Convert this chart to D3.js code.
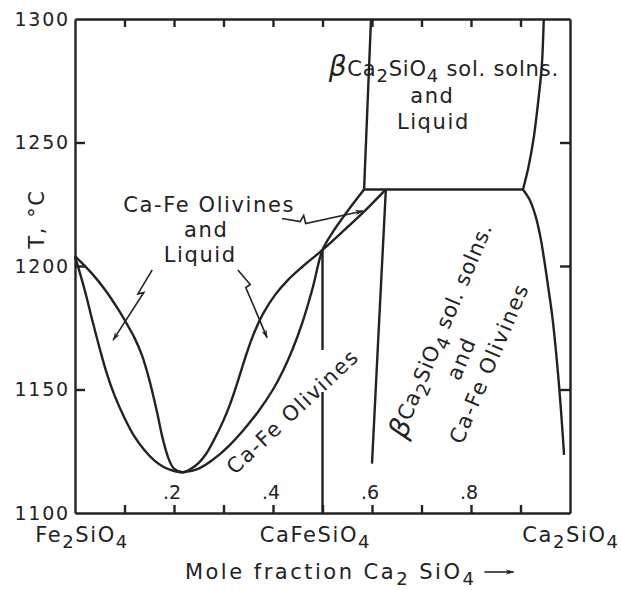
<!DOCTYPE html>
<html>
<head>
<meta charset="utf-8">
<script src="https://cdn.jsdelivr.net/npm/d3@7"></script>
<style>
  body { margin: 0; background: #fff; }
  svg { font-family: 'DejaVu Sans', sans-serif; }
  text { fill: #222; }
  .phase-line { fill: none; stroke: #222; stroke-width: 2.4; stroke-linejoin: round; }
  .axis path, .axis line { stroke: #222; stroke-width: 2.4; }
  .pointer { fill: none; stroke: #222; stroke-width: 1.6; }
  .label { font-size: 21px; letter-spacing: 1.6px; }
  .label.tight { letter-spacing: 0.8px; }
  .label.wide { letter-spacing: 2.5px; }
</style>
</head>
<body>
<svg width="621" height="590"></svg>
<script>
// phase boundaries, [mole fraction Ca2SiO4, T in °C]
const liquidus = [
  [0, 1204], [0.034, 1197], [0.061, 1190.3], [0.088, 1182.2], [0.108, 1175.4],
  [0.12, 1171], [0.135, 1164], [0.15, 1154], [0.165, 1141.5], [0.178, 1129.5],
  [0.19, 1121.5], [0.2, 1118], [0.218, 1116.5], [0.235, 1118], [0.25, 1120.3],
  [0.265, 1124], [0.28, 1129.3], [0.3, 1137.5], [0.315, 1145], [0.33, 1154],
  [0.345, 1163.5], [0.36, 1172], [0.38, 1180.7], [0.405, 1188.5], [0.43, 1194.3],
  [0.46, 1199.8], [0.5, 1206.5], [0.54, 1213.8], [0.585, 1222.2], [0.628, 1231]
];
const solidus = [
  [0, 1204], [0.02, 1190], [0.035, 1178], [0.05, 1166.5], [0.065, 1156],
  [0.08, 1147.5], [0.1, 1138.5], [0.12, 1131], [0.14, 1125.5], [0.16, 1121.3],
  [0.18, 1118.5], [0.2, 1117], [0.218, 1116.5], [0.25, 1118], [0.28, 1121.8],
  [0.31, 1127], [0.34, 1133.5], [0.37, 1141], [0.4, 1150], [0.42, 1157.5],
  [0.44, 1166.5], [0.46, 1177.5], [0.48, 1191], [0.5, 1206.5], [0.52, 1213.5],
  [0.54, 1219.3], [0.562, 1225.3], [0.584, 1231]
];
const peritectic = [[0.584, 1231], [0.905, 1231]];
const betaLiquidLeft = [[0.584, 1231], [0.598, 1300]];
const betaLiquidRight = [
  [0.905, 1231], [0.916, 1240], [0.926, 1251], [0.936, 1267], [0.943, 1281], [0.947, 1300]
];
const olivineSolvus = [[0.628, 1231], [0.614, 1176], [0.6, 1120]];
const betaSolvus = [
  [0.905, 1231], [0.918, 1227], [0.93, 1220.5], [0.94, 1212], [0.949, 1201],
  [0.957, 1190], [0.964, 1180], [0.974, 1160.5], [0.982, 1141], [0.988, 1123.5]
];
const cafeLine = [
  [[0.5, 1206.5], [0.5, 1166]],
  [[0.5, 1149], [0.5, 1100]]
];

// axes
const xMinorTicks = [0.1, 0.2, 0.3, 0.4, 0.5, 0.6, 0.7, 0.8, 0.9];
const xTickValues = [0.2, 0.4, 0.6, 0.8];
const xTickLabels = ['.2', '.4', '.6', '.8'];
const yTicks = [1100, 1150, 1200, 1250, 1300];
const endMembers = [
  { x: 0, parts: ['Fe', '2', 'SiO', '4'] },
  { x: 0.5, parts: ['CaFeSiO', '4'] },
  { x: 1, parts: ['Ca', '2', 'SiO', '4'] }
];

// pointer arrows (lightning style)
const pointers = [
  [[0.156, 1198.4], [0.127, 1188.7], [0.139, 1189.3], [0.077, 1170]],
  [[0.329, 1198.4], [0.354, 1192.5], [0.345, 1191.3], [0.388, 1171]],
  [[0.418, 1219.2], [0.455, 1218], [0.462, 1220.5], [0.466, 1217.2], [0.582, 1222.3]]
];

const svg = d3.select('svg');
const width = +svg.attr('width');
const height = +svg.attr('height');

const margin = { top: 19, right: 51, bottom: 77, left: 75 };
const innerWidth = width - margin.left - margin.right;
const innerHeight = height - margin.top - margin.bottom;

const xScale = d3.scaleLinear().domain([0, 1]).range([0, innerWidth]);
const yScale = d3.scaleLinear().domain([1100, 1300]).range([innerHeight, 0]);

const g = svg.append('g')
  .attr('transform', `translate(${margin.left},${margin.top})`);

// frame with inward ticks
g.append('g').attr('class', 'axis')
  .attr('transform', `translate(0,${innerHeight})`)
  .call(d3.axisBottom(xScale).tickValues(xMinorTicks).tickSize(-8).tickSizeOuter(0).tickFormat(''));

g.append('g').attr('class', 'axis')
  .call(d3.axisTop(xScale).tickValues(xMinorTicks).tickSize(-8).tickSizeOuter(0).tickFormat(''));

g.append('g').attr('class', 'axis')
  .attr('transform', `translate(${innerWidth},0)`)
  .call(d3.axisRight(yScale).tickValues(yTicks.slice(1, -1)).tickSize(-10).tickSizeOuter(0).tickFormat(''));

const yAxisG = g.append('g').attr('class', 'axis')
  .call(d3.axisLeft(yScale).tickValues(yTicks).tickSize(-10).tickSizeOuter(0)
    .tickPadding(5).tickFormat(d3.format('d')));
yAxisG.selectAll('.tick text')
  .attr('font-family', "'DejaVu Sans', sans-serif")
  .attr('font-size', 19)
  .attr('fill', '#222')
  .style('letter-spacing', '1.8px');
yAxisG.selectAll('.tick')
  .filter(d => d === 1100 || d === 1300)
  .select('line').remove();

// x tick labels sit inside the frame
g.selectAll('.x-tick-label')
  .data(xTickValues)
  .enter().append('text')
  .attr('class', 'x-tick-label')
  .attr('x', d => xScale(d) - 2)
  .attr('y', innerHeight - 14)
  .attr('text-anchor', 'middle')
  .attr('font-size', 19)
  .text((d, i) => xTickLabels[i]);

// phase boundaries
const line = d3.line()
  .x(d => xScale(d[0]))
  .y(d => yScale(d[1]));
const smooth = d3.line()
  .x(d => xScale(d[0]))
  .y(d => yScale(d[1]))
  .curve(d3.curveCatmullRom.alpha(0.5));

[liquidus, solidus, betaLiquidRight, betaSolvus].forEach(d => {
  g.append('path').attr('class', 'phase-line').attr('d', smooth(d));
});
[peritectic, betaLiquidLeft, olivineSolvus, ...cafeLine].forEach(d => {
  g.append('path').attr('class', 'phase-line').attr('d', line(d));
});

// pointer arrows
svg.append('defs').append('marker')
  .attr('id', 'head')
  .attr('viewBox', '0 -4 10 8')
  .attr('refX', 9).attr('refY', 0)
  .attr('markerWidth', 11).attr('markerHeight', 7)
  .attr('markerUnits', 'userSpaceOnUse')
  .attr('orient', 'auto')
  .append('path').attr('d', 'M0,-3L10,0L0,3L3,0Z').attr('fill', '#222');

pointers.forEach(p => {
  g.append('path').attr('class', 'pointer')
    .attr('d', line(p))
    .attr('marker-end', 'url(#head)');
});

// helper: formula text with subscripts, parts alternate normal / subscript
const formula = (sel, parts) => {
  parts.forEach((s, i) => {
    const sub = i % 2 === 1;
    sel.append('tspan')
      .attr('dy', sub ? 6 : (i === 0 ? 0 : -6))
      .attr('font-size', sub ? 18 : null)
      .text(s);
  });
  return sel;
};

const betaFormula = sel => {
  sel.append('tspan').attr('font-size', 28).style('font-style', 'italic').text('β');
  formula(sel, ['Ca', '2', 'SiO', '4', ' sol. solns.']);
  return sel;
};

// region labels: Ca-Fe olivines and liquid
[['Ca-Fe Olivines', 0.271, 1222], ['and', 0.265, 1211.8], ['Liquid', 0.253, 1201.5]]
  .forEach(([txt, x, y]) => {
    g.append('text').attr('class', 'label')
      .attr('x', xScale(x)).attr('y', yScale(y))
      .attr('text-anchor', 'middle')
      .text(txt);
  });

// beta Ca2SiO4 + liquid
betaFormula(g.append('text').attr('class', 'label tight')
  .attr('x', xScale(0.745)).attr('y', yScale(1277))
  .attr('text-anchor', 'middle'));
[['and', 0.722, 1266], ['Liquid', 0.724, 1255.5]]
  .forEach(([txt, x, y]) => {
    g.append('text').attr('class', 'label')
      .attr('x', xScale(x)).attr('y', yScale(y))
      .attr('text-anchor', 'middle')
      .text(txt);
  });

// rotated olivine label
g.append('text').attr('class', 'label')
  .attr('transform', `translate(${xScale(0.44)},${yScale(1141)}) rotate(-43)`)
  .attr('text-anchor', 'middle')
  .attr('dominant-baseline', 'central')
  .text('Ca-Fe Olivines');

// rotated beta + olivine label
const rot = -67;
betaFormula(g.append('text').attr('class', 'label tight')
  .attr('transform', `translate(${xScale(0.74)},${yScale(1174)}) rotate(${rot})`)
  .attr('text-anchor', 'middle')
  .attr('dominant-baseline', 'central'));

g.append('text').attr('class', 'label')
  .attr('transform', `translate(${xScale(0.781)},${yScale(1162.5)}) rotate(${rot})`)
  .attr('text-anchor', 'middle')
  .attr('dominant-baseline', 'central')
  .text('and');
g.append('text').attr('class', 'label')
  .attr('transform', `translate(${xScale(0.837)},${yScale(1160.5)}) rotate(${rot})`)
  .attr('text-anchor', 'middle')
  .attr('dominant-baseline', 'central')
  .text('Ca-Fe Olivines');

// end member names under the axis
endMembers.forEach(m => {
  const t = g.append('text').attr('class', 'label')
    .attr('x', xScale(m.x) + (m.x === 0.5 ? -7 : m.x === 0 ? 7 : 1))
    .attr('y', innerHeight + 29)
    .attr('text-anchor', 'middle');
  formula(t, m.parts);
});

// axis titles
const xTitle = g.append('text').attr('class', 'label wide')
  .attr('x', xScale(0.222))
  .attr('y', innerHeight + 66);
formula(xTitle, ['Mole fraction Ca', '2', ' SiO', '4']);
const titleEnd = xScale(0.222) + xTitle.node().getComputedTextLength();
g.append('line').attr('class', 'pointer')
  .attr('x1', titleEnd + 8).attr('x2', titleEnd + 37)
  .attr('y1', innerHeight + 59).attr('y2', innerHeight + 59)
  .attr('marker-end', 'url(#head)');

g.append('text').attr('class', 'label')
  .attr('transform', `translate(-38,${yScale(1219)}) rotate(-90)`)
  .attr('text-anchor', 'middle')
  .attr('dominant-baseline', 'central')
  .text('T, °C');
</script>
</body>
</html>
